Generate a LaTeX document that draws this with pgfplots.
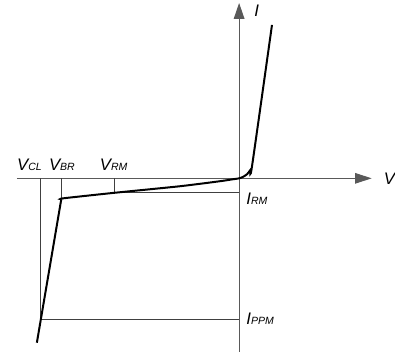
\documentclass[border=0pt]{standalone}
\usepackage{fontspec}
\setmainfont{Liberation Sans}
\usepackage{pgfplots}
\pgfplotsset{compat=1.18}
\usetikzlibrary{arrows.meta}

\newcommand{\lbl}[2]{{\itshape\fontsize{12.6}{14}\selectfont #1\fontsize{7.9}{9}\selectfont #2}}

\begin{document}
\begin{tikzpicture}
\begin{axis}[
    width=296.25pt, height=267pt,
    scale only axis,
    hide axis,
    clip=false,
    xmin=-240, xmax=155,
    ymin=-177, ymax=179,
]
% keep the full frame as the picture's extent
\path (rel axis cs:0,0) rectangle (rel axis cs:1,1);
% axes
\addplot[color=black!65, line width=0.8pt, -{Triangle[length=12.5pt,width=8pt]}] coordinates {(-223,0) (133,0)};
\addplot[color=black!65, line width=0.8pt, -{Triangle[length=12pt,width=8pt]}] coordinates {(0,-174) (0,176)};
% helper lines
\addplot[color=black!75, line width=0.8pt] coordinates {(-199,0) (-199,-142) (0,-142)};
\addplot[color=black!75, line width=0.8pt] coordinates {(-178,0) (-178,-20)};
\addplot[color=black!75, line width=0.8pt] coordinates {(-125,0) (-125,-14) (0,-14)};
% characteristic
\addplot[color=black, line width=1.5pt] coordinates {
    (-203,-165) (-178.5,-21)};
\addplot[color=black, line width=1.5pt, smooth, tension=0.4] coordinates {
    (-178.5,-21) (-176,-20) (-125,-14.5) (-60,-8) (-20,-3) (-6,-0.9) (0,0)
    (4,1.5) (8,4.2) (11,8) (13,12.5) (33,154)};
% labels
\node[anchor=base west, inner sep=0pt] at (axis cs:-223,8) {\lbl{V}{CL}};
\node[anchor=base west, inner sep=0pt] at (axis cs:-191,8) {\lbl{V}{BR}};
\node[anchor=base west, inner sep=0pt] at (axis cs:-140,8) {\lbl{V}{RM}};
\node[anchor=base west, inner sep=0pt] at (axis cs:145,-6) {\lbl{V}{}};
\node[anchor=base west, inner sep=0pt] at (axis cs:15,162) {\lbl{I}{}};
\node[anchor=base west, inner sep=0pt] at (axis cs:7,-26) {\lbl{I}{RM}};
\node[anchor=base west, inner sep=0pt] at (axis cs:7,-147) {\lbl{I}{PPM}};
\end{axis}
\end{tikzpicture}
\end{document}
